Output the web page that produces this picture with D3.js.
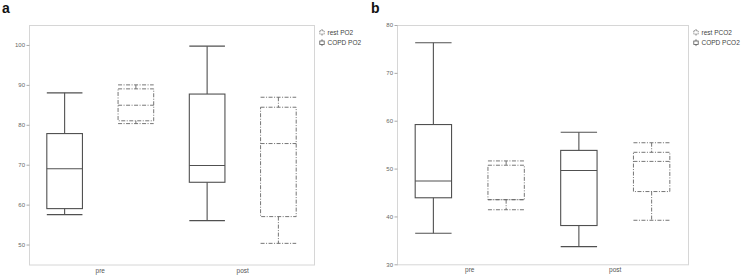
<!DOCTYPE html>
<html><head><meta charset="utf-8">
<script src="https://cdn.jsdelivr.net/npm/d3@7"></script>
<style>body{margin:0;background:#fff}svg{display:block}</style>
</head><body>
<script>
// ---- data ----
const categories = ["pre", "post"];
// five-number summaries [min, q1, median, q3, max]
const seriesA = ["COPD PO2", "rest PO2"];           // left solid, right dashed
const copdPO2 = [[57.5, 59.0, 69.0, 77.8, 88.0], [56.0, 65.6, 69.8, 87.7, 99.7]];
const restPO2 = [[80.3, 81.0, 84.9, 89.0, 90.0], [50.3, 57.0, 75.3, 84.4, 86.9]];
const seriesB = ["COPD PCO2", "rest PCO2"];
const copdPCO2 = [[36.5, 43.9, 47.4, 59.2, 76.3], [33.7, 38.1, 49.6, 53.8, 57.6]];
const restPCO2 = [[41.4, 43.5, 43.5, 50.7, 51.6], [39.2, 45.2, 51.5, 53.4, 55.4]];
const legendA = ["rest PO2", "COPD PO2"];
const legendB = ["rest PCO2", "COPD PCO2"];
const ticksA = [50, 60, 70, 80, 90, 100];
const ticksB = [30, 40, 50, 60, 70, 80];

const W = 744, H = 280;
const svg = d3.select("body").append("svg").attr("width", W).attr("height", H);
const FONT = "'Liberation Sans', Arial, sans-serif";
const solidCol = "#505050", dashCol = "#666", dashArr = "4,1.5,1,1.5";

function panel(opt) {
  const g = svg.append("g");
  const y = d3.scaleLinear().domain(opt.domain).range([opt.y1, opt.y0]);
  const x = d3.scaleBand().domain(categories).range([opt.x0, opt.x1]);
  const xs = d3.scalePoint().domain(opt.series).range([0, x.bandwidth()]).padding(0.5);
  const bw = x.bandwidth() * 0.25;

  g.append("rect").attr("x", opt.x0 + 0.5).attr("y", opt.y0 + 0.5)
    .attr("width", opt.x1 - opt.x0).attr("height", opt.y1 - opt.y0)
    .attr("fill", "none").attr("stroke", "#d6d6d6").attr("stroke-width", 1);

  const ay = g.append("g").attr("transform", `translate(${opt.x0 + 0.5},0)`)
    .call(d3.axisLeft(y).tickValues(opt.ticks).tickSize(3).tickPadding(1.5));
  ay.select(".domain").remove();
  ay.selectAll("line").attr("stroke", "#aaa");
  ay.selectAll("text").style("fill", "#666").style("font", `6px ${FONT}`);

  const ax = g.append("g").attr("transform", `translate(0,${opt.y1 + 0.5})`)
    .call(d3.axisBottom(x).tickSize(0).tickPadding(3));
  ax.select(".domain").remove();
  ax.selectAll("text").style("fill", "#555").style("font", `6.5px ${FONT}`);

  opt.data.forEach((vals, si) => {
    const dashed = si === 1;
    categories.forEach((c, ci) => {
      const [mn, q1, md, q3, mx] = vals[ci];
      const cx = x(c) + xs(opt.series[si]);
      const bg = g.append("g").attr("fill", "none")
        .attr("stroke", dashed ? dashCol : solidCol)
        .attr("stroke-width", dashed ? 0.9 : 1.1)
        .attr("stroke-dasharray", dashed ? dashArr : null);
      const L = cx - bw / 2, R = cx + bw / 2;
      bg.append("line").attr("x1", cx).attr("x2", cx).attr("y1", y(mx)).attr("y2", y(q3));
      bg.append("line").attr("x1", cx).attr("x2", cx).attr("y1", y(q1)).attr("y2", y(mn));
      bg.append("line").attr("x1", L).attr("x2", R).attr("y1", y(mx)).attr("y2", y(mx));
      bg.append("line").attr("x1", L).attr("x2", R).attr("y1", y(mn)).attr("y2", y(mn));
      bg.append("rect").attr("x", L).attr("y", y(q3)).attr("width", bw).attr("height", y(q1) - y(q3));
      bg.append("line").attr("x1", L).attr("x2", R).attr("y1", y(md)).attr("y2", y(md));
    });
  });

  // legend
  opt.legend.forEach((name, i) => {
    const ly = 32.5 + i * 10.3;
    const ix = opt.x1 + 8;
    const dashed = i === 0;
    const lg = g.append("g").attr("fill", "none").attr("stroke", dashed ? "#777" : "#555")
      .attr("stroke-width", 0.8).attr("stroke-dasharray", dashed ? "1.5,0.8" : null);
    lg.append("line").attr("x1", ix).attr("x2", ix).attr("y1", ly - 3.5).attr("y2", ly - 1.8);
    lg.append("rect").attr("x", ix - 2.2).attr("y", ly - 1.8).attr("width", 4.4).attr("height", 3.4);
    lg.append("line").attr("x1", ix).attr("x2", ix).attr("y1", ly + 1.6).attr("y2", ly + 3.3);
    g.append("text").attr("x", ix + 5.5).attr("y", ly).attr("dy", "0.35em")
      .style("fill", "#444").style("font", `6.5px ${FONT}`).text(name);
  });

  g.append("text").attr("x", opt.lx).attr("y", 13).style("fill", "#111")
    .style("font", `bold 14px ${FONT}`).text(opt.label);
}

panel({ x0: 29, x1: 314, y0: 25, y1: 264.5, domain: [45, 105], ticks: ticksA,
  series: seriesA, data: [copdPO2, restPO2], legend: legendA, label: "a", lx: 2 });
panel({ x0: 397, x1: 688, y0: 25, y1: 264.3, domain: [30, 80], ticks: ticksB,
  series: seriesB, data: [copdPCO2, restPCO2], legend: legendB, label: "b", lx: 371 });
</script>
</body></html>
